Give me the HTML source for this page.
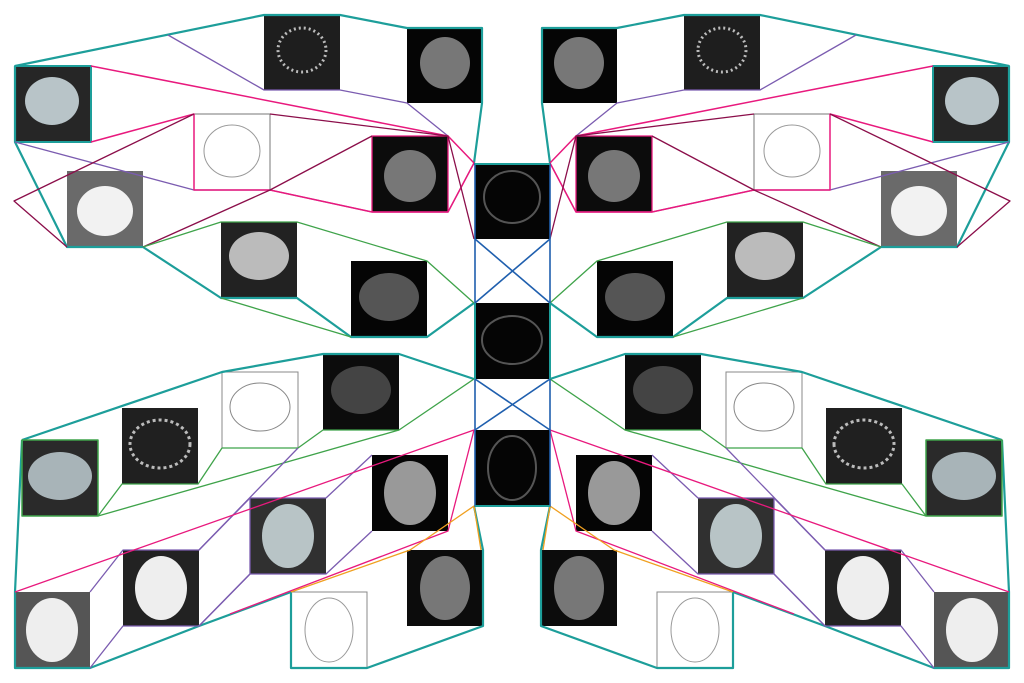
<!DOCTYPE html>
<html><head><meta charset="utf-8"><style>
html,body{margin:0;padding:0;background:#fff;width:1024px;height:683px;overflow:hidden}
svg{display:block}
</style></head><body>
<svg width="1024" height="683" viewBox="0 0 1024 683" xmlns="http://www.w3.org/2000/svg">
<g id="L">
  <!-- boxes -->
  <!-- top half -->
  <rect x="264" y="15" width="76" height="75" fill="#1e1e1e"/><ellipse cx="302" cy="50" rx="24" ry="22" fill="none" stroke="#bbb" stroke-width="3" stroke-dasharray="2 3"/>
  <rect x="407" y="28" width="75" height="75" fill="#050505"/><ellipse cx="445" cy="63" rx="25" ry="26" fill="#777"/>
  <rect x="15" y="66" width="76" height="76" fill="#262626"/><ellipse cx="52" cy="101" rx="27" ry="24" fill="#b8c4c8"/>
  <rect x="194" y="114" width="76" height="76" fill="#fff" stroke="#777"/><ellipse cx="232" cy="151" rx="28" ry="26" fill="none" stroke="#999"/>
  <rect x="372" y="136" width="76" height="76" fill="#0c0c0c"/><ellipse cx="410" cy="176" rx="26" ry="26" fill="#777"/>
  <rect x="67" y="171" width="76" height="76" fill="#6a6a6a"/><ellipse cx="105" cy="211" rx="28" ry="25" fill="#f2f2f2"/>
  <rect x="221" y="222" width="76" height="76" fill="#222"/><ellipse cx="259" cy="256" rx="30" ry="24" fill="#bbb"/>
  <rect x="351" y="261" width="76" height="76" fill="#050505"/><ellipse cx="389" cy="297" rx="30" ry="24" fill="#555"/>
  <!-- bottom half -->
  <rect x="323" y="354" width="76" height="76" fill="#0c0c0c"/><ellipse cx="361" cy="390" rx="30" ry="24" fill="#444"/>
  <rect x="222" y="372" width="76" height="76" fill="#fff" stroke="#888"/><ellipse cx="260" cy="407" rx="30" ry="24" fill="none" stroke="#888"/>
  <rect x="122" y="408" width="76" height="76" fill="#202020"/><ellipse cx="160" cy="444" rx="30" ry="24" fill="none" stroke="#bbb" stroke-width="3" stroke-dasharray="3 3"/>
  <rect x="22" y="440" width="76" height="76" fill="#2a2a2a"/><ellipse cx="60" cy="476" rx="32" ry="24" fill="#a8b4b8"/>
  <rect x="372" y="455" width="76" height="76" fill="#050505"/><ellipse cx="410" cy="493" rx="26" ry="32" fill="#999"/>
  <rect x="250" y="498" width="76" height="76" fill="#303030"/><ellipse cx="288" cy="536" rx="26" ry="32" fill="#b8c4c6"/>
  <rect x="123" y="550" width="76" height="76" fill="#222"/><ellipse cx="161" cy="588" rx="26" ry="32" fill="#eee"/>
  <rect x="15" y="592" width="75" height="76" fill="#555"/><ellipse cx="52" cy="630" rx="26" ry="32" fill="#eee"/>
  <rect x="291" y="592" width="76" height="76" fill="#fff" stroke="#888"/><ellipse cx="329" cy="630" rx="24" ry="32" fill="none" stroke="#999"/>
  <rect x="407" y="550" width="76" height="76" fill="#0c0c0c"/><ellipse cx="445" cy="588" rx="25" ry="32" fill="#777"/>

  <!-- lines -->
  <g fill="none" stroke-linejoin="round">
    <polyline stroke="#1d9e9a" stroke-width="2.2" points="15,66 264,15 340,15 407,28 482,28 482,103 474,163"/>
    <polyline stroke="#1d9e9a" stroke-width="2.2" points="15,66 15,142 67,247 143,247 221,298 297,298 351,337 427,337 474,303"/>
    <rect x="15" y="66" width="76" height="76" stroke="#1d9e9a" stroke-width="2"/>
    <polyline stroke="#7b5cb0" stroke-width="1.3" points="168,35 264,90 340,90 407,103 448,136"/>
    <polyline stroke="#7b5cb0" stroke-width="1.3" points="15,142 194,190 270,190 372,212 448,212 474,163"/>
    <polyline stroke="#e8197d" stroke-width="1.5" points="91,66 448,136 474,163 448,212 372,212 270,190 194,190 194,114 91,142"/>
    <rect x="372" y="136" width="76" height="76" stroke="#e8197d" stroke-width="1.3"/>
    <polyline stroke="#8b0e4a" stroke-width="1.3" points="194,114 14,201 67,247"/>
    <polyline stroke="#8b0e4a" stroke-width="1.3" points="143,247 270,190 372,136"/>
    <polyline stroke="#8b0e4a" stroke-width="1.3" points="270,114 448,136 474,239"/>
    <polyline stroke="#3fa34a" stroke-width="1.3" points="143,247 221,222 297,222 427,261 474,303"/>
    <polyline stroke="#3fa34a" stroke-width="1.3" points="221,298 351,337"/>
    <!-- bottom -->
    <polyline stroke="#1d9e9a" stroke-width="2.2" points="22,440 222,372 323,354 399,354 474,379"/>
    <polyline stroke="#1d9e9a" stroke-width="2.2" points="22,440 15,592 15,668 90,668 199,626 291,592"/>
    <polyline stroke="#1d9e9a" stroke-width="2.2" points="291,592 291,668 367,668 483,626 483,550 474,506"/>
    <rect x="22" y="440" width="76" height="76" stroke="#3fa34a" stroke-width="1.5"/>
    <polyline stroke="#3fa34a" stroke-width="1.3" points="98,516 122,484 198,484 222,448 298,448 323,430 399,430 474,379"/>
    <polyline stroke="#3fa34a" stroke-width="1.3" points="98,516 399,430"/>
    <polyline stroke="#7b5cb0" stroke-width="1.3" points="90,668 123,626 199,626 250,574 326,574 372,531"/>
    <polyline stroke="#7b5cb0" stroke-width="1.3" points="90,592 123,550 199,550 250,498 326,498 372,455"/>
    <polyline stroke="#7b5cb0" stroke-width="1.3" points="199,550 298,448"/>
    <polyline stroke="#7b5cb0" stroke-width="1.3" points="199,626 250,574 250,498"/>
    <polyline stroke="#e8197d" stroke-width="1.3" points="15,592 474,430 448,531 230,614"/>
    <polyline stroke="#f0a020" stroke-width="1.3" points="291,592 410,550 474,506 481,550"/>
    <!-- center -->
    <polyline stroke="#1d9e9a" stroke-width="2" points="474,164 550,164"/>
  </g>
</g>
<use href="#L" transform="translate(1024,0) scale(-1,1)"/>
<!-- center column -->
<rect x="475" y="164" width="75" height="75" fill="#050505"/><ellipse cx="512" cy="197" rx="28" ry="26" fill="none" stroke="#555" stroke-width="2"/>
<rect x="475" y="303" width="75" height="76" fill="#050505"/><ellipse cx="512" cy="340" rx="30" ry="24" fill="none" stroke="#555" stroke-width="2"/>
<rect x="475" y="430" width="75" height="75" fill="#050505"/><ellipse cx="512" cy="468" rx="24" ry="32" fill="none" stroke="#555" stroke-width="2"/>
<g fill="none" stroke="#1f5fae" stroke-width="1.6">
  <rect x="475" y="164" width="75" height="342"/>
  <line x1="475" y1="239" x2="550" y2="303"/><line x1="550" y1="239" x2="475" y2="303"/>
  <line x1="475" y1="379" x2="550" y2="430"/><line x1="550" y1="379" x2="475" y2="430"/>
</g>
<g fill="none" stroke="#1d9e9a" stroke-width="2">
  <line x1="475" y1="164" x2="550" y2="164"/>
  <line x1="475" y1="303" x2="475" y2="379"/><line x1="550" y1="303" x2="550" y2="379"/>
  <line x1="475" y1="506" x2="550" y2="506"/>
</g>
</svg>
</body></html>
